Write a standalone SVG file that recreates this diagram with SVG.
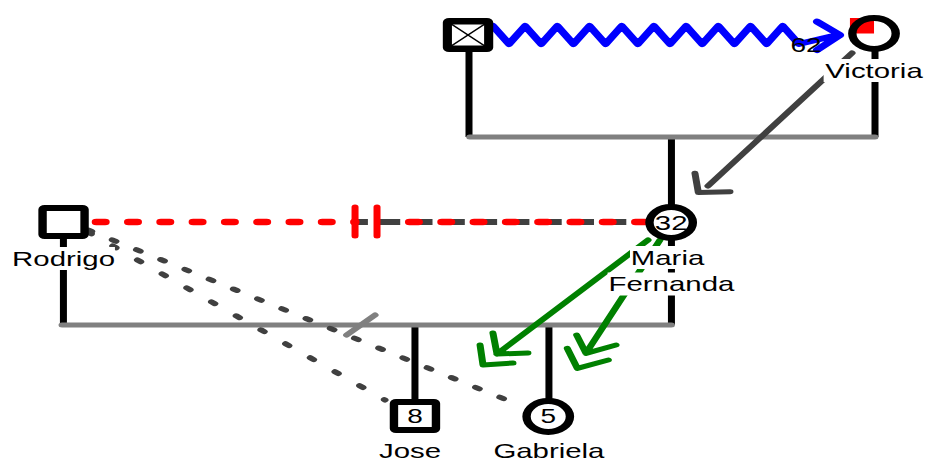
<svg xmlns="http://www.w3.org/2000/svg" width="927" height="462" viewBox="0 0 927 462">
<style>
.rel{stroke:#808080;stroke-width:5;stroke-linecap:round;fill:none}
.desc{stroke:#000;stroke-width:5;fill:none}
.node{fill:#fff;stroke:#000;stroke-width:6}
.lbl{font-family:"Liberation Sans",Arial,sans-serif;font-size:21px;fill:#000;text-anchor:middle}
.num{font-family:"Liberation Sans",Arial,sans-serif;font-size:20px;fill:#000;text-anchor:middle}
.bg{fill:#fff}
.dots{stroke:#404040;stroke-width:5;stroke-linecap:round;fill:none}
.green{stroke:#008000;stroke-width:5;stroke-linecap:round;stroke-linejoin:round;fill:none}
.darrow{stroke:#404040;stroke-width:5;stroke-linecap:round;stroke-linejoin:round;fill:none}
.reddash{stroke:#ff0000;stroke-width:6.5;stroke-linecap:round;stroke-dasharray:6.36 16.71;fill:none}
</style>
<rect width="927" height="462" fill="#fff"/>
<g transform="scale(1.4,1)">
<g id="connectors">
  <path class="desc" d="M335 52V137M625 51V137M479.6 137V205M45.3 239V325M479.6 240V325M296.4 325V400M392.1 325V400"/>
  <path class="rel" d="M335.5 137H625M44.3 325H479.6"/>
  <path class="dots" d="M62.9 230L374.3 407" stroke-dasharray="3 16.9"/>
  <path class="dots" d="M62.9 232L275 400" stroke-dasharray="3 19.5"/>
  <path class="rel" d="M247.6 335L267.9 315"/>
  <path d="M255.7 222H461" stroke="#404040" stroke-width="6" stroke-dasharray="16.4 6.67" stroke-dashoffset="9.3" fill="none"/>
  <path class="reddash" d="M68.75 222H253.6"/>
  <path class="reddash" d="M292.5 222H461"/>
  <path d="M253.6 207V236M269.3 207V236" stroke="#ff0000" stroke-width="5" stroke-linecap="round"/>
  <path d="M352.1 26L363.6 44L375.1 26L386.6 44L398.1 26L409.6 44L421.1 26L432.6 44L444.1 26L455.6 44L467.1 26L478.6 44L490.1 26L501.6 44L513.1 26L524.6 44L536.1 26L547.6 44L559.1 26L570.6 44L598 35M583.6 21.7L600 35L583.6 50" stroke="#0000ff" stroke-width="6" stroke-linejoin="round" stroke-linecap="round" fill="none"/>
  <path class="darrow" d="M608.6 53L505.7 186M496.4 173.3L498.8 192.5L521.4 191.7"/>
  <path class="green" d="M462.9 240L355 354M352.1 333L355 354L377.1 353M342.9 345L345 365L366.4 363"/>
  <path class="green" d="M471.4 240L418.6 353M411.9 335L418.6 353.3L440 345M405.2 348.3L412.4 368.3L434.5 360"/>
</g>
<g id="node-deceased-male">
  <rect class="node" x="319.3" y="21" width="30" height="28" rx="1.5"/>
  <rect x="322.3" y="24" width="24" height="22" fill="none" stroke="#000" stroke-width="1"/>
  <path d="M322.3 24L346.3 46M346.3 24L322.3 46" stroke="#000" stroke-width="1.2"/>
</g>
<g id="node-victoria">
  <circle cx="624.3" cy="33.5" r="15.5" fill="#fff"/>
  <rect x="607.1" y="18" width="17.2" height="15.5" fill="#ff0000"/>
  <circle cx="624.3" cy="33.5" r="15.5" fill="none" stroke="#000" stroke-width="6"/>
  <text class="num" x="575.7" y="52" style="font-size:20px">62</text>
  <rect class="bg" x="588.3" y="59" width="72" height="23"/>
  <text class="lbl" x="624.3" y="78">Victoria</text>
</g>
<g id="node-maria-fernanda">
  <circle class="node" cx="479.4" cy="222.5" r="15.5"/>
  <text class="num" x="479.4" y="230" style="font-size:21px">32</text>
  <rect class="bg" x="450" y="246" width="54" height="23"/>
  <text class="lbl" x="476.8" y="265">Maria</text>
  <rect class="bg" x="434" y="272.5" width="91.5" height="23"/>
  <text class="lbl" x="479.6" y="291">Fernanda</text>
</g>
<g id="node-rodrigo">
  <rect class="node" x="30.4" y="208" width="30" height="28" rx="1.5"/>
  <rect class="bg" x="8.6" y="247" width="73.5" height="23"/>
  <text class="lbl" x="45.4" y="266">Rodrigo</text>
</g>
<g id="node-jose">
  <rect class="node" x="281.4" y="402" width="30" height="28" rx="1.5"/>
  <text class="num" x="296.4" y="423.5">8</text>
  <text class="lbl" x="292.9" y="458">Jose</text>
</g>
<g id="node-gabriela">
  <circle class="node" cx="391.6" cy="416.5" r="15.5"/>
  <text class="num" x="391.6" y="423.5">5</text>
  <text class="lbl" x="392.1" y="458">Gabriela</text>
</g>
</g>
</svg>
